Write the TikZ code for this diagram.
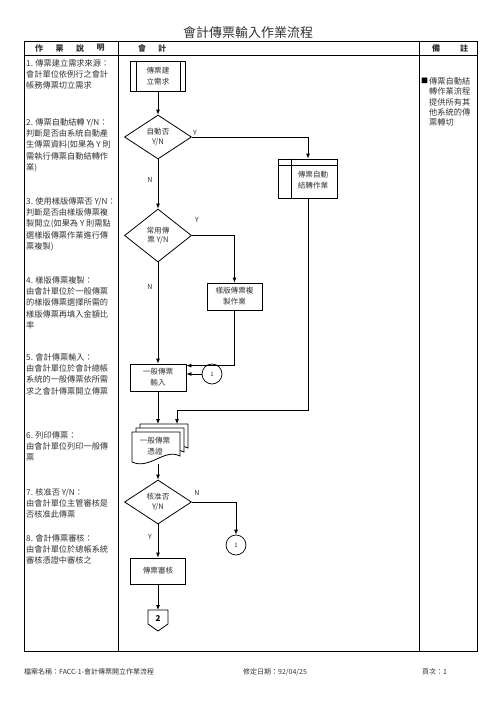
\documentclass[tikz,border=0pt]{standalone}
\usepackage{fontspec}
\setmainfont{Noto Sans CJK TC}
\usetikzlibrary{shapes.geometric,arrows.meta}

\begin{document}
\begin{tikzpicture}[x=1pt,y=-1pt,
  every node/.style={text=black!80},
  proc/.style={draw=black,line width=.8pt,minimum width=55pt,minimum height=27pt,inner sep=0pt,align=center,font=\fontsize{7.6}{11}\selectfont},
  decide/.style={draw=black,diamond,line width=.8pt,minimum width=67pt,minimum height=44pt,inner sep=0pt,align=center,font=\fontsize{7.6}{9.5}\selectfont},
  conn/.style={draw=black,circle,line width=.7pt,minimum size=20pt,inner sep=0pt,font=\fontsize{6}{6}\selectfont},
  flow/.style={line width=.8pt,-{Latex[length=5pt,width=4pt]}},
  yn/.style={font=\fontsize{7}{7}\selectfont,inner sep=1pt},
  note/.style={anchor=north west,align=left,inner sep=0pt,font=\fontsize{8.2}{11.2}\selectfont},
  foot/.style={anchor=west,inner sep=0pt,font=\fontsize{7}{8}\selectfont}]
\useasboundingbox (0,0) rectangle (496,702);

\node[font=\fontsize{13}{15}\selectfont] (title) at (248,33) {會計傳票輸入作業流程};

% table
\draw[line width=.8pt] (24,41) rectangle (477,651);
\draw[line width=.8pt] (24,55) -- (477,55) (118,41) -- (118,651) (419,41) -- (419,651);
\foreach \c [count=\i] in {作,業,說,明}
  \node[font=\fontsize{8}{8}\selectfont\bfseries] at (39+20.5*\i-20.5,48) {\c};
\node[font=\fontsize{8}{8}\selectfont\bfseries] at (142,48) {會};
\node[font=\fontsize{8}{8}\selectfont\bfseries] at (162,48) {計};
\node[font=\fontsize{8}{8}\selectfont\bfseries] at (436,48) {備};
\node[font=\fontsize{8}{8}\selectfont\bfseries] at (464,48) {註};

% left column
\node[note] (s1) at (26,59.3) {1. 傳票建立需求來源：\\會計單位依例行之會計\\帳務傳票切立需求};
\node[note] (s2) at (26,118.3) {2. 傳票自動結轉 Y/N：\\判斷是否由系統自動產\\生傳票資料(如果為 Y 則\\需執行傳票自動結轉作\\業)};
\node[note] (s3) at (26,197.3) {3. 使用樣版傳票否 Y/N：\\判斷是否由樣版傳票複\\製開立(如果為 Y 則需點\\選樣版傳票作業進行傳\\票複製)};
\node[note] (s4) at (26,276.3) {4. 樣版傳票複製：\\由會計單位於一般傳票\\的樣版傳票選擇所需的\\樣版傳票再填入金額比\\率};
\node[note] (s5) at (26,353.3) {5. 會計傳票輸入：\\由會計單位於會計總帳\\系統的一般傳票依所需\\求之會計傳票開立傳票};
\node[note] (s6) at (26,431.3) {6. 列印傳票：\\由會計單位列印一般傳\\票};
\node[note] (s7) at (26,488.3) {7. 核准否 Y/N：\\由會計單位主管審核是\\否核准此傳票};
\node[note] (s8) at (26,534.3) {8. 會計傳票審核：\\由會計單位於總帳系統\\審核憑證中審核之};

% right column
\node[inner sep=0pt,font=\fontsize{7}{7}\selectfont,text=black] (bullet) at (424.5,81) {■};
\node[note,font=\fontsize{8.2}{10.3}\selectfont] (remark) at (429,77.3) {傳票自動結\\轉作業流程\\提供所有其\\他系統的傳\\票轉切};

% flow
\node[proc,minimum height=30pt] (req) at (158,76) {傳票建\\立需求};
\draw[line width=.8pt] ([xshift=6pt]req.north west) -- ([xshift=6pt]req.south west)
  ([xshift=-6pt]req.north east) -- ([xshift=-6pt]req.south east);

\node[decide] (auto) at (158,137) {自動否\\Y/N};
\node[proc,minimum width=59pt,minimum height=39pt] (autojob) at (308,178.5) {};
\node[font=\fontsize{7.6}{11}\selectfont,align=center,inner sep=0pt] (autotext) at (313,180) {傳票自動\\結轉作業};
\draw[line width=.8pt] ([yshift=-7pt]autojob.north west) -- ([yshift=-7pt]autojob.north east)
  ([xshift=13pt]autojob.north west) -- ([xshift=13pt]autojob.south west);

\node[decide,minimum height=53pt] (often) at (158,235.5) {常用傳\\票 Y/N};
\node[proc] (tmpl) at (234.5,296.5) {樣版傳票複\\製作業};
\node[proc,minimum width=56pt] (entry) at (158,377.5) {一般傳票\\輸入};
\node[conn] (c1a) at (212,374) {1};

% voucher stack
\foreach \d in {8,4,0}
  \draw[line width=.8pt,fill=white] (132+\d,432-\d) -- (180+\d,432-\d) -- (180+\d,456-\d)
    .. controls (164+\d,448-\d) and (150+\d,470-\d) .. (132+\d,462-\d) -- cycle;
\node[font=\fontsize{7.6}{11}\selectfont,align=center,inner sep=0pt] (voucher) at (155,446) {一般傳票\\憑證};
\coordinate (vtop) at (158,424);
\coordinate (vtop2) at (177,424);
\coordinate (vbot) at (158,464);
\coordinate (turn) at (308,410);

\node[decide] (appr) at (158,502) {核准否\\Y/N};
\node[conn] (c1b) at (236,545) {1};
\node[proc,minimum height=26pt] (review) at (158,571) {傳票審核};
\draw[line width=.8pt] (148,610) -- (168,610) -- (168,624) -- (158,631) -- (148,624) -- cycle;
\node[font=\fontsize{8}{8}\selectfont\bfseries,text=black] (page2) at (158,619) {2};
\coordinate (pgtop) at (158,610);

\draw[flow] (req) -- (auto);
\draw[flow] (auto.east) -| (autojob.north);
\node[yn,anchor=south west] at (auto.east) {Y};
\draw[flow] (auto) -- (often);
\node[yn] at (150,180) {N};
\draw[flow] (often.east) -| (tmpl.north);
\node[yn] at (197,220) {Y};
\draw[flow] (often) -- (entry);
\node[yn] at (150,287) {N};
\draw[flow] (tmpl.south) |- ([yshift=-2pt]entry.north east);
\draw[flow] (c1a.west) -- (entry.east |- c1a.west);
\draw[flow] (entry) -- (vtop);
\draw[flow] (autojob.south) -- (turn) -| (vtop2);
\draw[flow] (vbot) -- (appr);
\draw[flow] (appr.east) -| (c1b.north);
\node[yn] at (197,493) {N};
\draw[flow] (appr) -- (review);
\node[yn] at (150,537) {Y};
\draw[flow] (review) -- (pgtop);

% footer
\node[foot] (fname) at (24,672) {檔案名稱：FACC-1-會計傳票開立作業流程};
\node[foot] (fdate) at (243,672) {修定日期：92/04/25};
\node[foot] (fpage) at (422,672) {頁次：1};
\end{tikzpicture}
\end{document}
